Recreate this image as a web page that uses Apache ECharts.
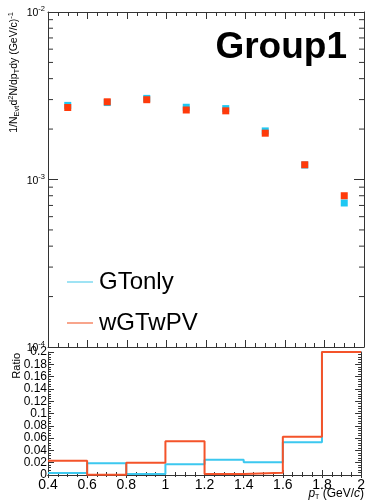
<!DOCTYPE html>
<html><head><meta charset="utf-8">
<script src="https://cdn.jsdelivr.net/npm/echarts@6/dist/echarts.min.js"></script>
<style>html,body{margin:0;padding:0;background:#fff}#c{width:368px;height:501px}</style>
</head><body><div id="c"></div>
<script>
// ---- data ----
const ptCenters = [0.5, 0.7, 0.9, 1.1, 1.3, 1.5, 1.7, 1.9];
const gtOnly   = [2.77e-3, 2.88e-3, 3.05e-3, 2.70e-3, 2.65e-3, 1.95e-3, 1.22e-3, 7.24e-4];
const wGTwPV   = [2.69e-3, 2.91e-3, 2.995e-3, 2.60e-3, 2.57e-3, 1.89e-3, 1.225e-3, 8.0e-4];
const binEdges = [0.4, 0.6, 0.8, 1.0, 1.2, 1.4, 1.6, 1.8, 2.0];
const ratioGTonly = [0.0033, 0.0192, 0.0016, 0.0176, 0.0247, 0.0209, 0.0533, 0.2];
const ratioWGTwPV = [0.0231, 0.0003, 0.0200, 0.0550, 0.0016, 0.0038, 0.0620, 0.2];
const xTickLabels = ['0.4','0.6','0.8','1','1.2','1.4','1.6','1.8','2'];
const ratioTickLabels = ['0','0.02','0.04','0.06','0.08','0.1','0.12','0.14','0.16','0.18','0.2'];
const logTickExps = ['-4','-3','-2'];
const logMinorTicks = [2e-4,3e-4,4e-4,5e-4,6e-4,7e-4,8e-4,9e-4,2e-3,3e-3,4e-3,5e-3,6e-3,7e-3,8e-3,9e-3];
const seriesNames = ['GTonly', 'wGTwPV'];

const FONT = 'Liberation Sans';
const CYAN = '#1ec8f3', RED = '#ff3a0a';
const CYAN_L = '#3cc8ef', RED_L = '#f4532a';

function stepData(vals){
  const d = vals.map((v,i)=>[binEdges[i], v]);
  d.push([binEdges[binEdges.length-1], vals[vals.length-1]]);
  return d;
}

const frame = {show:true, lineStyle:{color:'#333', width:1}};
function xAx(grid, pos, labels, tl, ml){
  return {type:'value', gridIndex:grid, position:pos, min:0.4, max:2, interval:0.2,
    axisLine:frame, splitLine:{show:false},
    axisTick:{show:true, inside:true, length:tl, lineStyle:{color:'#333'}},
    minorTick:{show:true, splitNumber:4, length:ml, lineStyle:{color:'#333'}},
    axisLabel: labels ? {show:true, fontFamily:FONT, fontSize:14, color:'#000', margin:3,
      formatter:(v)=>{const i=Math.round((v-0.4)/0.2); return xTickLabels[i]||'';}} : {show:false}};
}
function ratioY(pos, labels){
  return {type:'value', gridIndex:1, position:pos, min:0, max:0.2, interval:0.02,
    axisLine:frame, splitLine:{show:false},
    axisTick:{show:true, inside:true, length:6, lineStyle:{color:'#333'}},
    minorTick:{show:true, splitNumber:5, length:3, lineStyle:{color:'#333'}},
    axisLabel: labels ? {show:true, fontFamily:FONT, fontSize:12, color:'#000', margin:1,
      showMinLabel:true, showMaxLabel:true,
      formatter:(v)=>{const i=Math.round(v/0.02); return ratioTickLabels[i]||'';}} : {show:false}};
}
function logY(pos, labels){
  return {type:'log', logBase:10, gridIndex:0, position:pos, min:1e-4, max:1e-2,
    axisLine:frame, splitLine:{show:false},
    axisTick:{show:true, inside:true, length:10, lineStyle:{color:'#333'}},
    axisLabel: labels ? {show:true, margin:3, showMinLabel:true, showMaxLabel:true,
      formatter:(v)=>{const e=Math.round(Math.log10(v)); const s=logTickExps[e+4]; return '{b|10}{s|'+(s===undefined?e:s)+'}';},
      rich:{b:{fontFamily:FONT,fontSize:10.5,color:'#000',lineHeight:14,verticalAlign:'bottom'},
            s:{fontFamily:FONT,fontSize:7.5,color:'#000',lineHeight:14,verticalAlign:'top'}}} : {show:false}};
}

function minorTickSeries(){
  return {type:'custom', xAxisIndex:0, yAxisIndex:0, silent:true, clip:false, z:5,
    data: logMinorTicks.map(v=>[0.4, v]),
    renderItem:(params, api)=>{
      const v = api.value(1);
      const pl = api.coord([0.4, v]);
      const pr = api.coord([2.0, v]);
      return {type:'group', children:[
        {type:'line', shape:{x1:pl[0], y1:pl[1], x2:pl[0]+5, y2:pl[1]}, style:{stroke:'#333', lineWidth:1}},
        {type:'line', shape:{x1:pr[0], y1:pr[1], x2:pr[0]-5, y2:pr[1]}, style:{stroke:'#333', lineWidth:1}}
      ]};
    }};
}

const chart = echarts.init(document.getElementById('c'), null, {renderer:'canvas'});
chart.setOption({
  animation:false,
  backgroundColor:'#fff',
  title:{text:'Group1', right:21, top:29, padding:0,
    textStyle:{fontFamily:FONT, fontSize:37, fontWeight:'bold', color:'#000'}},
  legend:{orient:'vertical', left:62, top:265, itemWidth:26, itemHeight:2, itemGap:17,
    icon:'rect', selectedMode:false,
    textStyle:{fontFamily:FONT, fontSize:24, color:'#000', padding:[0,0,0,1]},
    data:[{name:seriesNames[0], itemStyle:{color:'#9fe3f4'}},
          {name:seriesNames[1], itemStyle:{color:'#f8a58c'}}]},
  grid:[{left:48, top:12, width:316, height:335},
        {left:48, top:352, width:316, height:123}],
  xAxis:[xAx(0,'bottom',false,7,4), xAx(0,'top',false,7,4), xAx(1,'bottom',true,5,3), xAx(1,'top',false,3,2)],
  yAxis:[logY('left',true), logY('right',false), ratioY('left',true), ratioY('right',false)],
  graphic:[
    {type:'text', x:21, y:12, rotation:Math.PI/2, z:10,
     style:{align:'right', verticalAlign:'bottom', 
       text:'{n|1/N}{s|Evt}{n|d}{p|2}{n|N/dp}{s|T}{n|dy (GeV/c)}{p|-1}',
       rich:{n:{fontFamily:FONT,fontSize:10.5,fill:'#000',lineHeight:14,verticalAlign:'middle'},
             s:{fontFamily:FONT,fontSize:7.5,fill:'#000',lineHeight:14,verticalAlign:'bottom'},
             p:{fontFamily:FONT,fontSize:7.5,fill:'#000',lineHeight:14,verticalAlign:'top'}}}},
    {type:'text', x:22, y:353, rotation:Math.PI/2, z:10,
     style:{align:'right', verticalAlign:'bottom', text:'Ratio', fontFamily:FONT, fontSize:11, fill:'#000'}},
    {type:'text', right:4, top:488, z:10,
     style:{text:'{i|p}{s|T}{n| (GeV/}{i|c}{n|)}',
       rich:{i:{fontFamily:FONT,fontSize:12,fontStyle:'italic',fill:'#000',lineHeight:14},
             n:{fontFamily:FONT,fontSize:12,fill:'#000',lineHeight:14},
             s:{fontFamily:FONT,fontSize:7,fill:'#000',lineHeight:14,verticalAlign:'bottom'}}}}
  ],
  series:[
    {name:seriesNames[0], type:'scatter', xAxisIndex:0, yAxisIndex:0, symbol:'rect', symbolSize:7,
     itemStyle:{color:CYAN, opacity:1}, data: ptCenters.map((x,i)=>[x, gtOnly[i]]), z:3},
    {name:seriesNames[1], type:'scatter', xAxisIndex:0, yAxisIndex:0, symbol:'rect', symbolSize:7,
     itemStyle:{color:RED, opacity:1}, data: ptCenters.map((x,i)=>[x, wGTwPV[i]]), z:4},
    minorTickSeries(),
    {name:'ratio GTonly', type:'line', xAxisIndex:2, yAxisIndex:2, step:'end', symbol:'none',
     lineStyle:{color:CYAN_L, width:2}, data: stepData(ratioGTonly), z:3},
    {name:'ratio wGTwPV', type:'line', xAxisIndex:2, yAxisIndex:2, step:'end', symbol:'none',
     lineStyle:{color:RED_L, width:2}, data: stepData(ratioWGTwPV), z:4}
  ]
});
</script></body></html>
